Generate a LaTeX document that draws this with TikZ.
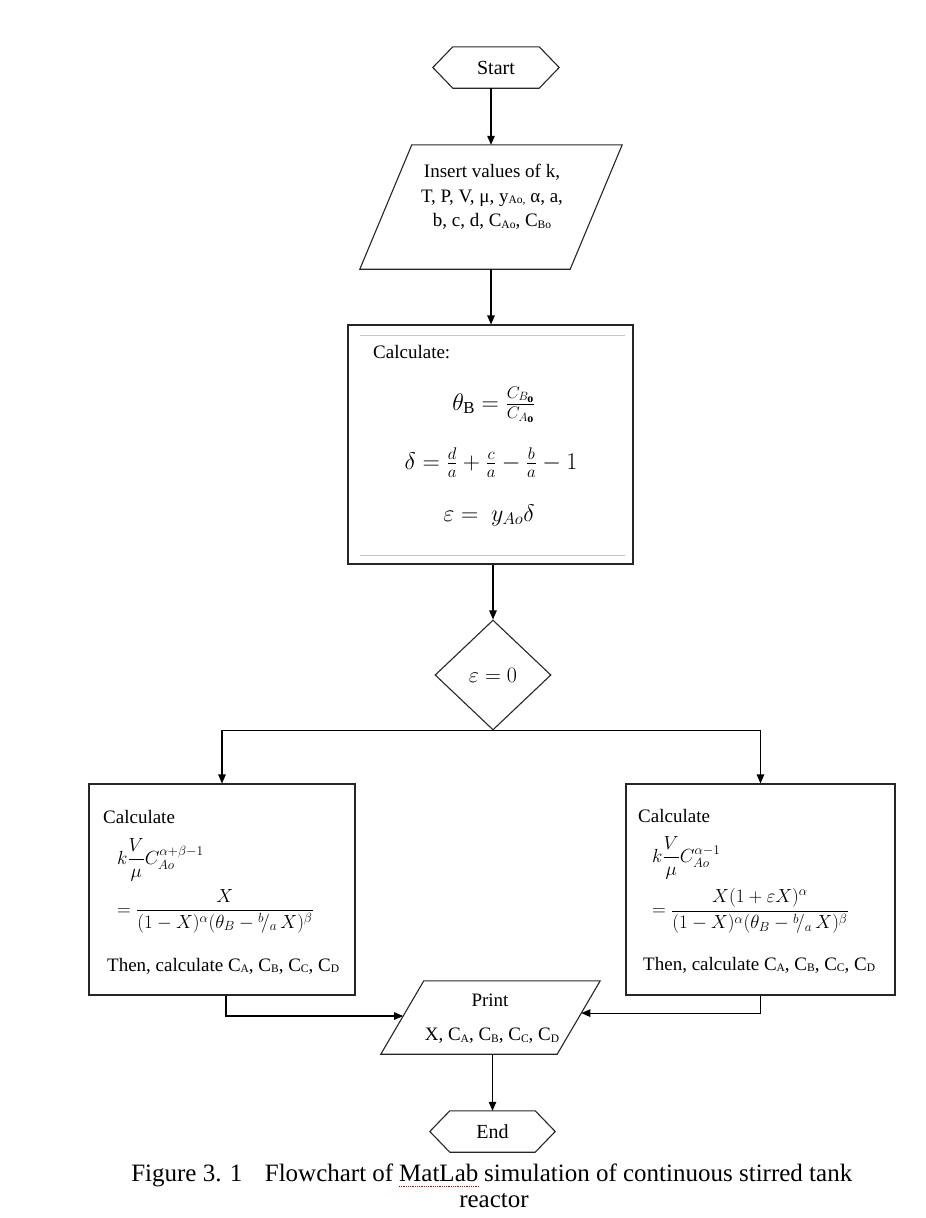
\RequirePackage{fix-cm}
\documentclass[tikz,border=0pt]{standalone}
\usepackage{amsmath}
\usepackage{fontspec}
\setmainfont{Liberation Serif}
\usetikzlibrary{arrows.meta,shapes.geometric,calc}
\newcommand{\lsub}[1]{\raisebox{-0.2ex}{\fontsize{11.5}{11.5}\selectfont #1}}
\begin{document}
\begin{tikzpicture}[x=1pt,y=-1pt,
  every node/.style={font=\fontsize{19}{24}\selectfont, inner sep=0pt},
  shapeline/.style={draw=black!85, line width=1.1pt},
  arr/.style={line width=1.1pt, -{Triangle[length=9pt,width=7.5pt]}},
  formula/.style={font=\fontsize{19}{22}\selectfont, anchor=west},
  eqfont/.style={font=\fontsize{24}{26}\selectfont},
  termfont/.style={font=\fontsize{20}{24}\selectfont},
  captionfont/.style={font=\fontsize{25}{28}\selectfont},
]
\useasboundingbox (0,0) rectangle (926,1218);

% Start
\node[termfont, minimum width=126, minimum height=41] (start) at (496,67.5) {Start};
\draw[shapeline] ([xshift=20pt]start.north west) -- ([xshift=-20pt]start.north east) -- (start.east)
  -- ([xshift=-20pt]start.south east) -- ([xshift=20pt]start.south west) -- (start.west) -- cycle;

% Insert values
\node[minimum width=262, minimum height=124] (insert) at (491,207) {};
\draw[shapeline] ([xshift=52pt]insert.north west) -- (insert.north east)
  -- ([xshift=-52pt]insert.south east) -- (insert.south west) -- cycle;
\node[align=center, font=\fontsize{19}{24.5}\selectfont] (insertlbl) at (492,197) {Insert values of k,\\ T, P, V, μ, y\lsub{Ao,} α, a,\\ b, c, d, C\lsub{Ao}, C\lsub{Bo}};

% Calculate box
\node[shapeline, minimum width=285, minimum height=239] (calc) at (490.5,444.5) {};
\draw[black!22, line width=0.7pt] (360,335) -- (625,335);
\draw[black!22, line width=0.7pt] (360,555) -- (625,555);
\node[anchor=west] (calclbl) at (373,352) {Calculate:};
\node[eqfont] (eq1) at (494,405) {$\theta_{\mathrm{B}} = \frac{C_{B_{\mathbf{o}}}}{C_{A_{\mathbf{o}}}}$};
\node[eqfont] (eq2) at (491,463) {$\delta = \frac{d}{a} + \frac{c}{a} - \frac{b}{a} - 1$};
\node[eqfont] (eq3) at (489,515) {$\varepsilon =\ y_{Ao}\delta$};

% Decision
\node[draw, shape=diamond, shapeline, minimum width=116, minimum height=110, font=\fontsize{22}{24}\selectfont] (dec) at (493,675) {$\varepsilon = 0$};

% Left box
\node[shapeline, minimum width=266, minimum height=211] (lbox) at (222,889.5) {};
\node[anchor=west] (llbl) at (103,817) {Calculate};
\node[formula] (lf1) at (117,860) {$k\dfrac{V}{\mu}C_{Ao}^{\alpha+\beta-1}$};
\node[formula] (lf2) at (117,911) {$=\dfrac{X}{(1-X)^{\alpha}(\theta_B - {}^{b}\!/_{a}\,X)^{\beta}}$};
\node[anchor=west] (lthen) at (107,966) {Then, calculate C\lsub{A}, C\lsub{B}, C\lsub{C}, C\lsub{D}};

% Right box
\node[shapeline, minimum width=269, minimum height=211] (rbox) at (760.5,889.5) {};
\node[anchor=west] (rlbl) at (638,816) {Calculate};
\node[formula] (rf1) at (652,858) {$k\dfrac{V}{\mu}C_{Ao}^{\alpha-1}$};
\node[formula] (rf2) at (652,911) {$=\dfrac{X(1+\varepsilon X)^{\alpha}}{(1-X)^{\alpha}(\theta_B - {}^{b}\!/_{a}\,X)^{\beta}}$};
\node[anchor=west] (rthen) at (643,965) {Then, calculate C\lsub{A}, C\lsub{B}, C\lsub{C}, C\lsub{D}};

% Print
\node[minimum width=219, minimum height=73] (print) at (490.5,1017.5) {};
\draw[shapeline] ([xshift=43pt]print.north west) -- (print.north east)
  -- ([xshift=-43pt]print.south east) -- (print.south west) -- cycle;
\node (printlbl) at (490,1000) {Print};
\node (printvals) at (492,1036) {X, C\lsub{A}, C\lsub{B}, C\lsub{C}, C\lsub{D}};
\coordinate (pl) at ($(print.south west)!0.52!([xshift=43pt]print.north west)$);
\coordinate (pr) at ($([xshift=-43pt]print.south east)!0.56!(print.north east)$);

% End
\node[termfont, minimum width=125, minimum height=41] (end) at (492.5,1131.5) {End};
\draw[shapeline] ([xshift=20pt]end.north west) -- ([xshift=-20pt]end.north east) -- (end.east)
  -- ([xshift=-20pt]end.south east) -- ([xshift=20pt]end.south west) -- (end.west) -- cycle;

% Connectors
\draw[arr] (insert.north |- start.south) -- (insert.north);
\draw[arr] (insert.south) -- (insert.south |- calc.north);
\draw[arr] (dec.north |- calc.south) -- (dec.north);
\draw[arr] (dec.south) -| (lbox.north);
\draw[arr] (dec.south) -| (rbox.north);
\draw[arr] ([xshift=4pt]lbox.south) |- (pl);
\draw[arr] (rbox.south) |- (pr);
\draw[arr] (end.north |- print.south) -- (end.north);

% Caption
\node[captionfont, anchor=base west] (capm) at (399,1181) {MatLab};
\node[captionfont, anchor=base east] (capa) at ([xshift=-5.5pt]capm.base west) {Figure 3. 1\hspace{0.9em}Flowchart of};
\node[captionfont, anchor=base west] (capb) at ([xshift=5.5pt]capm.base east) {simulation of continuous stirred tank};
\node[captionfont] (cap2) at (494,1201) {reactor};
\draw[red!80!black, densely dotted, line width=0.8pt] ([yshift=-5pt]capm.base west) -- ([yshift=-5pt]capm.base east);
\end{tikzpicture}
\end{document}
